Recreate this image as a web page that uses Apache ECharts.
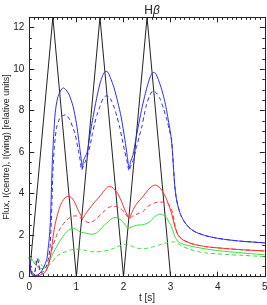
<!DOCTYPE html>
<html><head><meta charset="utf-8">
<script src="https://cdn.jsdelivr.net/npm/echarts@6/dist/echarts.min.js"></script>
<style>html,body{margin:0;padding:0;background:#fff}#c{width:267px;height:305px}</style>
</head><body><div id="c"></div>
<script>
const xTicks = [0, 1, 2, 3, 4, 5];
const yTicks = [0, 2, 4, 6, 8, 10, 12];
const triangle = [[0,0],[0.5,12.5],[1,0],[1.5,12.5],[2,0],[2.5,12.5],[3,0],[5,0]];
const blueSolid = [[0,0.95],[0.02,0.5],[0.05,0.12],[0.1,0.06],[0.17,0.08],[0.23,0.18],[0.3,0.43],[0.37,0.83],[0.4,1.35],[0.43,2.0],[0.45,2.8],[0.47,4.2],[0.49,5.6],[0.52,6.9],[0.55,7.9],[0.6,8.6],[0.66,8.95],[0.72,9.1],[0.78,9.0],[0.85,8.75],[0.93,8.2],[1.0,7.4],[1.06,6.4],[1.1,5.7],[1.13,5.2],[1.15,5.6],[1.19,5.8],[1.23,6.0],[1.28,6.7],[1.33,7.4],[1.43,8.6],[1.5,9.3],[1.56,9.7],[1.62,9.9],[1.67,9.85],[1.72,9.6],[1.8,9.1],[1.88,8.4],[1.95,7.7],[2.03,6.6],[2.08,5.8],[2.12,5.2],[2.15,5.55],[2.2,5.85],[2.26,6.6],[2.31,7.2],[2.38,8.0],[2.45,8.7],[2.52,9.3],[2.58,9.7],[2.63,9.85],[2.68,9.8],[2.74,9.5],[2.8,9.1],[2.85,8.7],[2.9,8.2],[2.95,7.56],[3.0,6.9],[3.03,6.3],[3.06,5.3],[3.09,4.34],[3.12,3.8],[3.16,3.37],[3.21,3.0],[3.27,2.73],[3.34,2.5],[3.41,2.33],[3.55,2.13],[3.77,1.96],[4.0,1.85],[4.25,1.77],[4.5,1.71],[4.75,1.67],[5.0,1.63]];
const blueDashed = [[0,0.95],[0.03,0.5],[0.06,0.2],[0.1,0.12],[0.14,0.5],[0.17,0.88],[0.2,0.6],[0.24,0.2],[0.3,0.25],[0.36,0.5],[0.41,0.9],[0.44,1.4],[0.46,2.3],[0.48,3.5],[0.5,5.0],[0.53,6.2],[0.58,7.2],[0.64,7.6],[0.7,7.75],[0.77,7.8],[0.86,7.56],[0.93,7.15],[0.97,6.9],[1.04,6.1],[1.08,5.6],[1.11,5.14],[1.14,5.3],[1.18,5.5],[1.23,5.8],[1.29,6.3],[1.34,6.9],[1.39,7.4],[1.45,7.9],[1.5,8.2],[1.57,8.6],[1.64,8.72],[1.7,8.65],[1.75,8.45],[1.81,8.1],[1.86,7.72],[1.92,7.2],[1.96,6.75],[2.02,6.1],[2.07,5.63],[2.12,5.1],[2.15,5.3],[2.19,5.5],[2.24,5.9],[2.28,6.27],[2.34,6.8],[2.39,7.24],[2.44,7.8],[2.49,8.3],[2.56,8.75],[2.63,8.96],[2.7,8.85],[2.77,8.6],[2.85,8.1],[2.92,7.56],[2.97,7.1],[3.02,6.6],[3.06,5.3],[3.09,4.34],[3.12,3.8],[3.16,3.37],[3.21,3.0],[3.27,2.73],[3.34,2.5],[3.41,2.33],[3.55,2.13],[3.77,1.96],[4.0,1.85],[4.25,1.77],[4.5,1.71],[4.75,1.67],[5.0,1.63]];
const redSolid = [[0,0.95],[0.02,0.5],[0.05,0.12],[0.1,0.05],[0.19,0.05],[0.27,0.12],[0.33,0.2],[0.4,0.5],[0.44,0.9],[0.47,1.3],[0.51,2.0],[0.55,2.55],[0.6,3.0],[0.65,3.37],[0.7,3.62],[0.76,3.8],[0.82,3.87],[0.87,3.85],[0.92,3.75],[0.96,3.6],[1.0,3.4],[1.04,3.2],[1.09,2.98],[1.13,2.81],[1.19,3.0],[1.25,3.2],[1.32,3.4],[1.39,3.6],[1.47,3.8],[1.54,4.0],[1.61,4.2],[1.68,4.34],[1.75,4.32],[1.82,4.18],[1.88,4.0],[1.93,3.77],[1.98,3.5],[2.03,3.2],[2.08,2.98],[2.12,2.81],[2.18,3.1],[2.24,3.37],[2.31,3.6],[2.39,3.8],[2.46,4.0],[2.53,4.2],[2.6,4.35],[2.67,4.42],[2.74,4.35],[2.81,4.18],[2.87,3.95],[2.92,3.7],[2.97,3.4],[3.02,3.05],[3.06,2.7],[3.09,2.4],[3.13,2.15],[3.16,2.0],[3.22,1.85],[3.27,1.76],[3.38,1.65],[3.48,1.57],[3.62,1.5],[3.77,1.44],[4.0,1.39],[4.25,1.34],[4.5,1.3],[4.75,1.27],[5.0,1.24]];
const redDashed = [[0,0.95],[0.03,0.5],[0.06,0.2],[0.1,0.12],[0.14,0.5],[0.17,0.88],[0.2,0.6],[0.24,0.2],[0.3,0.15],[0.36,0.3],[0.41,0.65],[0.44,0.9],[0.47,1.2],[0.51,1.55],[0.55,1.8],[0.6,2.1],[0.65,2.3],[0.7,2.48],[0.79,2.72],[0.86,2.85],[0.93,2.92],[1.0,2.93],[1.04,2.9],[1.1,2.82],[1.15,2.73],[1.22,2.64],[1.29,2.6],[1.36,2.68],[1.43,2.81],[1.52,3.0],[1.61,3.2],[1.7,3.35],[1.78,3.4],[1.86,3.37],[1.93,3.3],[1.98,3.2],[2.03,3.05],[2.08,2.92],[2.12,2.8],[2.17,2.88],[2.24,2.97],[2.33,3.05],[2.42,3.15],[2.5,3.35],[2.56,3.45],[2.66,3.55],[2.77,3.6],[2.86,3.58],[2.95,3.5],[3.0,3.35],[3.04,3.1],[3.08,2.65],[3.12,2.25],[3.16,2.0],[3.22,1.85],[3.27,1.76],[3.38,1.65],[3.48,1.57],[3.62,1.5],[3.77,1.44],[4.0,1.39],[4.25,1.34],[4.5,1.3],[4.75,1.27],[5.0,1.24]];
const greenSolid = [[0,0.95],[0.04,0.9],[0.08,0.75],[0.13,0.58],[0.19,0.45],[0.25,0.4],[0.33,0.42],[0.4,0.6],[0.47,0.96],[0.52,1.2],[0.58,1.44],[0.63,1.65],[0.69,1.85],[0.75,2.05],[0.8,2.18],[0.86,2.28],[0.93,2.33],[1.0,2.28],[1.08,2.16],[1.15,2.12],[1.22,2.09],[1.3,2.05],[1.36,2.05],[1.43,2.12],[1.5,2.25],[1.6,2.5],[1.68,2.65],[1.75,2.8],[1.82,2.86],[1.89,2.82],[1.96,2.7],[2.03,2.52],[2.1,2.33],[2.17,2.4],[2.24,2.45],[2.31,2.49],[2.4,2.5],[2.48,2.55],[2.56,2.65],[2.66,2.88],[2.74,3.0],[2.8,3.02],[2.86,2.95],[2.92,2.81],[2.97,2.62],[3.02,2.4],[3.06,2.15],[3.09,1.92],[3.13,1.78],[3.16,1.68],[3.25,1.58],[3.34,1.52],[3.5,1.44],[3.77,1.33],[4.0,1.26],[4.25,1.2],[4.5,1.15],[4.75,1.1],[5.0,1.06]];
const greenDashed = [[0,0.93],[0.04,0.85],[0.08,0.68],[0.11,0.65],[0.15,0.82],[0.19,0.88],[0.23,0.7],[0.28,0.52],[0.35,0.48],[0.44,0.6],[0.5,0.75],[0.58,0.98],[0.68,1.12],[0.79,1.22],[0.9,1.3],[1.0,1.33],[1.1,1.32],[1.2,1.26],[1.3,1.21],[1.42,1.2],[1.54,1.22],[1.65,1.27],[1.75,1.33],[1.85,1.43],[1.93,1.5],[2.0,1.55],[2.07,1.57],[2.15,1.5],[2.24,1.41],[2.33,1.36],[2.42,1.34],[2.52,1.38],[2.63,1.44],[2.75,1.52],[2.85,1.6],[2.95,1.65],[3.06,1.68],[3.15,1.6],[3.25,1.47],[3.41,1.31],[3.6,1.2],[3.77,1.14],[4.0,1.1],[4.25,1.06],[4.5,1.03],[4.75,1.0],[5.0,0.97]];

const FONT = 'Liberation Sans';
const BLUE = '#2b2bff', RED = '#ff2b2b', GREEN = '#33e033', BLACK = '#222';
const chart = echarts.init(document.getElementById('c'), null, {renderer: 'canvas'});

function xAx(pos, labels) {
  return {
    type: 'value', position: pos, min: xTicks[0], max: xTicks[xTicks.length-1], interval: 1,
    axisLine: {show: true, onZero: false, lineStyle: {color: BLACK, width: 1}},
    axisTick: {show: true, inside: true, length: 5, lineStyle: {color: BLACK}},
    minorTick: {show: true, splitNumber: 10, length: 2.5, lineStyle: {color: BLACK}},
    splitLine: {show: false},
    axisLabel: {show: labels, fontFamily: FONT, fontSize: 10, color: '#222', margin: 6},
    name: labels ? 't [s]' : '', nameLocation: 'middle', nameGap: 17, nameMoveOverlap: false,
    nameTextStyle: {fontFamily: FONT, fontSize: 10, color: '#222'}
  };
}
function yAx(pos, labels) {
  return {
    type: 'value', position: pos, min: yTicks[0], max: 12.5, interval: 2,
    axisLine: {show: true, onZero: false, lineStyle: {color: BLACK, width: 1}},
    axisTick: {show: true, inside: true, length: 5, lineStyle: {color: BLACK}},
    minorTick: {show: true, splitNumber: 4, length: 2.5, lineStyle: {color: BLACK}},
    splitLine: {show: false},
    axisLabel: {show: labels, fontFamily: FONT, fontSize: 10, color: '#222', margin: 5, showMaxLabel: false,
      formatter: v => yTicks.includes(v) ? String(v) : ''},
    name: labels ? 'Flux, I(centre), I(wing) [relative units]' : '', nameLocation: 'middle', nameGap: 18, nameMoveOverlap: false,
    nameTextStyle: {fontFamily: FONT, fontSize: 9, color: '#222'}
  };
}
function line(data, color, dashed) {
  return {type: 'line', data: data, xAxisIndex: 0, yAxisIndex: 0, showSymbol: false, smooth: 0.25,
    lineStyle: {color: color, width: 1, type: dashed ? [4, 3] : 'solid'}, silent: true, clip: true, animation: false};
}
chart.setOption({
  animation: false,
  title: {text: 'H{b|β}', left: 147, top: 0, textAlign: 'center',
    textStyle: {fontFamily: FONT, fontSize: 12, fontWeight: 'normal', color: '#222',
      rich: {b: {fontFamily: FONT, fontSize: 12, fontStyle: 'italic', color: '#222'}}}},
  grid: {left: 29.3, right: 2.2, top: 17.3, bottom: 28.3, containLabel: false, outerBoundsMode: 'none'},
  xAxis: [xAx('bottom', true), xAx('top', false)],
  yAxis: [yAx('left', true), yAx('right', false)],
  series: [
    {type: 'line', data: triangle, showSymbol: false, lineStyle: {color: BLACK, width: 1}, silent: true, clip: true},
    line(greenDashed, GREEN, true),
    line(greenSolid, GREEN, false),
    line(redDashed, RED, true),
    line(redSolid, RED, false),
    line(blueDashed, BLUE, true),
    line(blueSolid, BLUE, false)
  ]
});
</script></body></html>
